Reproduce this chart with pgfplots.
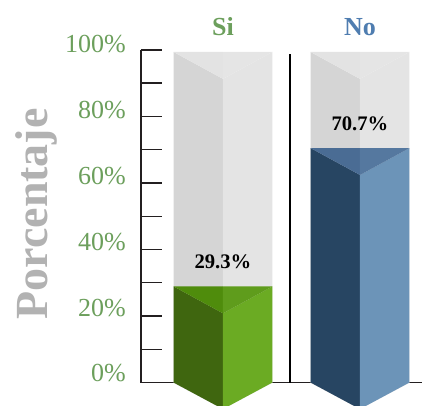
\documentclass[border=0pt]{standalone}
\usepackage{fontspec}
\setmainfont{Liberation Serif}
\usepackage{pgfplots}
\pgfplotsset{compat=1.18}
\definecolor{tickgreen}{HTML}{6C9F5C}
\definecolor{siblue}{HTML}{4F7DB0}
\definecolor{axisblack}{HTML}{231F20}
\definecolor{gl}{HTML}{D5D5D5}
\definecolor{gr}{HTML}{E4E4E4}
\definecolor{gtl}{HTML}{E3E3E3}
\definecolor{gtr}{HTML}{E5E5E5}
\definecolor{sl}{HTML}{3F660F}
\definecolor{sr}{HTML}{6BAB23}
\definecolor{stl}{HTML}{4F8C0C}
\definecolor{str}{HTML}{5F9C1C}
\definecolor{nl}{HTML}{274562}
\definecolor{nr}{HTML}{6C94B8}
\definecolor{ntl}{HTML}{4A6C94}
\definecolor{ntr}{HTML}{55789F}
\begin{document}
\begin{tikzpicture}
\useasboundingbox (-105.75pt,-16.875pt) rectangle (210.75pt,286.875pt);
\begin{axis}[
  at={(0pt,0pt)}, anchor=south west,
  scale only axis, width=210.75pt, height=249.4pt,
  xmin=-0.5985, xmax=1.4526, ymin=0, ymax=100,
  axis y line=left, axis x line=bottom,
  axis line style={-, line width=1.1pt, color=axisblack},
  clip=false,
  xtick={0,1}, xticklabels={\textcolor{tickgreen}{Si},\textcolor{siblue}{No}},
  major x tick style={draw=none},
  xticklabel style={anchor=base, inner sep=0pt, font=\bfseries\fontsize{19.5}{20}\selectfont, yshift=260.6pt},
  ytick={0,20,...,100}, yticklabels={0\%,20\%,40\%,60\%,80\%,100\%},
  minor ytick={10,30,50,70,90},
  tick align=inside,
  major tick length=15.75pt, minor tick length=15.75pt,
  y tick style={line width=1.1pt, color=axisblack},
  minor y tick style={line width=1.1pt, color=axisblack},
  yticklabel style={anchor=east, inner sep=0pt, text=tickgreen, font=\fontsize{19.5}{20}\selectfont,
    xshift=-11.25pt, yshift={(6.75-0.45*\ticknum)*1pt}},
  every axis y label/.style={at={(axis description cs:-0.3345,0.507)}, anchor=base, rotate=90},
  ylabel={\textcolor[HTML]{B2B2B2}{\bfseries\fontsize{34.5}{35}\selectfont Porcentaje}},
]
% Si grey
\addplot[fill=gl,draw=none] coordinates {(-0.361,-0.1)(0,-8)(0,91.3)(-0.361,99.4)};
\addplot[fill=gr,draw=none] coordinates {(0.361,-0.1)(0,-8)(0,91.3)(0.361,99.4)};
\addplot[fill=gtl,draw=none] coordinates {(-0.361,99.4)(0,99.4)(0,91.3)};
\addplot[fill=gtr,draw=none] coordinates {(0.361,99.4)(0,99.4)(0,91.3)};
% No grey
\addplot[fill=gl,draw=none] coordinates {(0.639,-0.1)(1,-8)(1,91.3)(0.639,99.4)};
\addplot[fill=gr,draw=none] coordinates {(1.361,-0.1)(1,-8)(1,91.3)(1.361,99.4)};
\addplot[fill=gtl,draw=none] coordinates {(0.639,99.4)(1,99.4)(1,91.3)};
\addplot[fill=gtr,draw=none] coordinates {(1.361,99.4)(1,99.4)(1,91.3)};
% Si level
\addplot[fill=sl,draw=none] coordinates {(-0.361,0)(0,-8)(0,20.8)(-0.361,28.9)};
\addplot[fill=sr,draw=none] coordinates {(0.361,0)(0,-8)(0,20.8)(0.361,28.9)};
\addplot[fill=stl,draw=none] coordinates {(-0.361,28.9)(0,28.9)(0,20.8)};
\addplot[fill=str,draw=none] coordinates {(0.361,28.9)(0,28.9)(0,20.8)};
% No level
\addplot[fill=nl,draw=none] coordinates {(0.639,0)(1,-8)(1,62.4)(0.639,70.5)};
\addplot[fill=nr,draw=none] coordinates {(1.361,0)(1,-8)(1,62.4)(1.361,70.5)};
\addplot[fill=ntl,draw=none] coordinates {(0.639,70.5)(1,70.5)(1,62.4)};
\addplot[fill=ntr,draw=none] coordinates {(1.361,70.5)(1,70.5)(1,62.4)};
% separator
\addplot[black,line width=1.1pt] coordinates {(0.489,0)(0.489,98.8)};
% labels
\addplot[draw=none, mark=none, point meta=explicit symbolic,
  nodes near coords, every node near coord/.style={anchor=center, text=black, inner sep=0pt,
  font=\bfseries\fontsize{15.5}{16}\selectfont, yshift=18.5pt}]
  coordinates {(0,28.9)[29.3\%] (1,70.5)[70.7\%]};
\end{axis}
\end{tikzpicture}
\end{document}
